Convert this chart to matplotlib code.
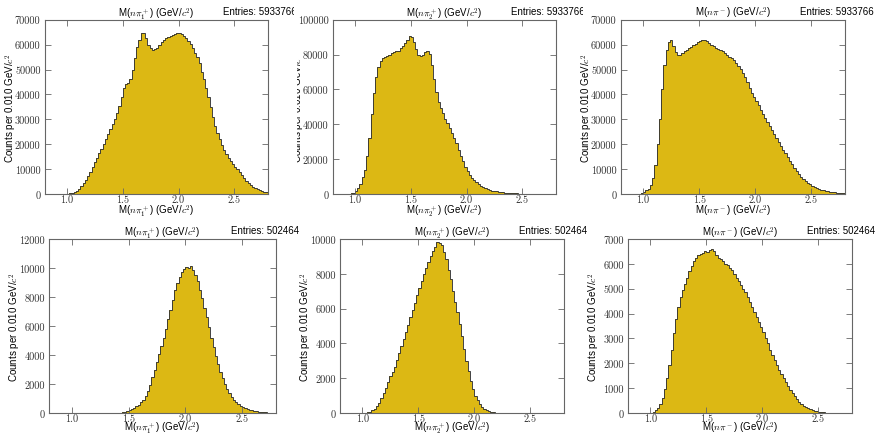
import numpy as np
import matplotlib
matplotlib.use("Agg")
import matplotlib.pyplot as plt
from matplotlib.ticker import MultipleLocator, FormatStrFormatter
from matplotlib.transforms import Bbox, TransformedBbox

plt.rcParams['font.family'] = ['Liberation Sans', 'DejaVu Sans']
plt.rcParams['mathtext.fontset'] = 'cm'
plt.rcParams['axes.formatter.use_mathtext'] = True

# bin width used for the read-off counts (GeV/c^2)
BIN = 0.02

# top row: all combinations (Entries: 5933766)
top1_start = 1.00
top1_counts = [50, 250, 500, 850, 1300, 2200, 3200, 4400, 5800, 7400,
               9000, 10900, 12800, 14500, 16300, 18200, 20200, 22100, 24000, 26000,
               28000, 30200, 32500, 35500, 39000, 42500, 44000, 44500, 46000, 50000,
               54500, 59000, 62000, 64500, 64800, 62500, 60000, 58500, 57800, 58200,
               58800, 59800, 61000, 62000, 62700, 63200, 63600, 64000, 64200, 64800,
               64500, 64200, 63600, 62800, 61600, 60200, 58500, 56800, 55000, 52500,
               49000, 46000, 42500, 39000, 35000, 31000, 27500, 24500, 22000, 19800,
               17800, 16000, 14500, 13200, 12000, 11000, 10000, 8800, 7700, 6500,
               5400, 4500, 3700, 3000, 2400, 1900, 1500, 1200, 950, 700]

top2_start = 0.94
top2_counts = [100, 300, 800, 1700, 3500, 6000, 9500, 14000, 22000, 32000,
               46000, 58000, 67000, 73000, 76500, 78000, 78800, 79300, 80000, 80800,
               81300, 81800, 82300, 83500, 85000, 86500, 88500, 90500, 90000, 87000,
               83000, 79500, 79000, 79800, 81200, 82000, 80500, 74000, 66000, 58500,
               53000, 49500, 46500, 43000, 40500, 38000, 35000, 32000, 29000, 25500,
               22000, 19000, 15500, 13000, 11000, 9200, 7800, 6600, 5600, 4800,
               4000, 3400, 2800, 2400, 2000, 1700, 1500, 1300, 1100, 950,
               800, 700, 600, 500, 420, 350, 280, 200, 150, 100, 60]

top3_start = 0.94
top3_counts = [50, 150, 500, 900, 1500, 2200, 3800, 6500, 11500, 20000,
               30000, 42000, 52000, 58000, 61000, 61800, 59500, 57000, 55800, 55800,
               56800, 57500, 58000, 58600, 59200, 59800, 60400, 61000, 61500, 61800,
               61700, 61300, 60600, 59900, 59300, 58800, 58200, 57700, 57300, 56600,
               55900, 55200, 54500, 53700, 52700, 51600, 50200, 48600, 46800, 44800,
               42700, 40500, 38800, 37200, 35700, 33800, 32100, 30500, 28900, 27300,
               25700, 24100, 22500, 20900, 19300, 17800, 16300, 14800, 13300, 11900,
               10600, 9300, 8100, 7000, 6000, 5200, 4500, 3900, 3400, 2900,
               2500, 2100, 1800, 1500, 1300, 1100, 950, 800, 650, 550,
               450, 380, 300]

# bottom row: selected combinations (Entries: 502464)
bot1_start = 1.40
bot1_counts = [10, 30, 50, 80, 120, 180, 250, 340, 450, 580,
               740, 930, 1200, 1550, 1950, 2450, 3000, 3550, 4100, 4650,
               5200, 5800, 6450, 7100, 7800, 8450, 8950, 9350, 9700, 9950,
               10050, 10000, 10150, 9850, 9550, 9100, 8500, 7900, 7250, 6600,
               5900, 5200, 4550, 3950, 3350, 2850, 2400, 2000, 1650, 1350,
               1100, 900, 750, 620, 500, 400, 330, 270, 220, 180,
               140, 110, 90, 70, 50, 40, 30, 20, 10, 5]

bot2_start = 1.00
bot2_counts = [10, 20, 40, 80, 150, 250, 400, 600, 850, 1150,
               1450, 1800, 2100, 2350, 2650, 3050, 3450, 3850, 4250, 4650,
               5050, 5500, 5900, 6350, 6800, 7200, 7600, 8000, 8350, 8700,
               9050, 9300, 9550, 9800, 9750, 9650, 9250, 8850, 8200, 7700,
               7000, 6400, 5800, 5100, 4400, 3700, 3000, 2400, 1850, 1400,
               1000, 720, 500, 350, 240, 160, 100, 60, 40, 20, 10]

bot3_start = 0.98
bot3_counts = [5, 20, 60, 120, 220, 380, 620, 950, 1400, 1950,
               2550, 3200, 3800, 4250, 4650, 4950, 5200, 5450, 5700, 5900,
               6100, 6250, 6350, 6400, 6450, 6500, 6480, 6550, 6600, 6500,
               6350, 6250, 6200, 6100, 6000, 5950, 5850, 5750, 5600, 5450,
               5300, 5150, 5000, 4850, 4650, 4450, 4250, 4050, 3850, 3650,
               3450, 3250, 3000, 2800, 2550, 2350, 2150, 1950, 1750, 1580,
               1400, 1230, 1080, 930, 800, 680, 560, 460, 370, 300,
               240, 190, 150, 120, 90, 70, 50, 35, 25, 15, 10, 5]

names = [r'$n\pi_1^+$', r'$n\pi_2^+$', r'$n\pi^-$',
         r'$n\pi_1^+$', r'$n\pi_2^+$', r'$n\pi^-$']
entries = ['5933766', '5933766', '5933766', '502464', '502464', '502464']
ymax = [70000, 100000, 70000, 12000, 10000, 7000]
ystep = [10000, 20000, 10000, 2000, 2000, 1000]
xticks = [1.0, 1.5, 2.0, 2.5]

starts = [top1_start, top2_start, top3_start, bot1_start, bot2_start, bot3_start]
counts = [top1_counts, top2_counts, top3_counts, bot1_counts, bot2_counts, bot3_counts]

W, H = 878, 435
# axes boxes in pixels: left, top, right, bottom
boxes = [(44.7, 20.7, 267.7, 195), (332.7, 20.7, 555.7, 195), (620.7, 20.7, 845, 195),
         (49.3, 240, 276, 414), (340, 240, 564, 414), (628, 240, 852, 414)]
# distance of x-label centre below the axes, in pixels
xlab_off = [16, 16, 16, 14.5, 14.5, 14.5]

fill = '#DCB814'
edge = '#333333'
frame = '#666666'

fig = plt.figure(figsize=(W / 100, H / 100), dpi=100)


def pix_clip(x0, x1):
    return TransformedBbox(Bbox([[x0 / W, 0], [x1 / W, 1]]), fig.transFigure)


for i in range(6):
    l, t, r, b = boxes[i]
    ax = fig.add_axes([l / W, 1 - b / H, (r - l) / W, (b - t) / H])
    vals = np.array(counts[i])
    edges = starts[i] + BIN * np.arange(len(vals) + 1)
    ax.stairs(vals, edges, fill=True, color=fill, lw=0)
    ax.stairs(vals, edges, color=edge, lw=0.65)

    ax.set_xlim(0.8, 2.8)
    ax.set_ylim(0, ymax[i])
    ax.set_xticks(xticks)
    ax.xaxis.set_major_formatter(FormatStrFormatter('%.1f'))
    ax.yaxis.set_major_locator(MultipleLocator(ystep[i]))
    ax.yaxis.set_major_formatter(FormatStrFormatter('%d'))
    ax.tick_params(direction='in', length=4, width=0.6, colors=frame,
                   top=True, right=True, labelsize=7.4, labelcolor='#333333',
                   labelfontfamily='cmr10', pad=3)
    ax.tick_params(axis='x', pad=0.5)
    for s in ax.spines.values():
        s.set_color(frame)
        s.set_linewidth(0.8)

    ax.set_xlabel('M(' + names[i] + r') (GeV/$c^2$)', fontsize=7, va='center')
    ax.xaxis.set_label_coords(0.5, -xlab_off[i] / (b - t))
    ax.set_ylabel(r'Counts per 0.010 GeV/$c^2$', fontsize=7)
    ax.yaxis.set_label_coords(-26.0 / (r - l), 0.5)
    ax.set_title('M(' + names[i] + r') (GeV/$c^2$)', fontsize=7, pad=3)
    txt = ax.annotate('Entries: ' + entries[i], xy=(2.4, 1), xycoords=('data', 'axes fraction'),
                      xytext=(0, 3), textcoords='offset points', fontsize=7,
                      ha='left', va='bottom', annotation_clip=False)
    if i == 0:
        txt.set_clip_on(True)
        txt.set_clip_box(pix_clip(0, 294))
    if i == 1:
        txt.set_clip_on(True)
        txt.set_clip_box(pix_clip(297, 583))
        ax.yaxis.label.set_clip_on(True)
        ax.yaxis.label.set_clip_box(pix_clip(297, 585))

fig.savefig('out.png', dpi=100)
